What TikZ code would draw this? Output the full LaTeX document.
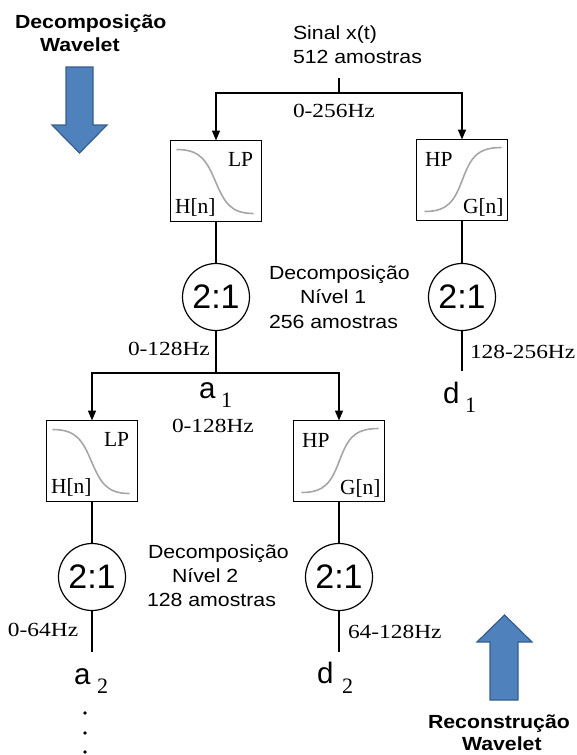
\documentclass[tikz,border=0pt]{standalone}
\usepackage{fontspec}
\setmainfont{Liberation Serif}
\newfontfamily\sanswide[FakeStretch=1.12]{Liberation Sans}
\newfontfamily\serifwide[FakeStretch=1.17]{Liberation Serif}
\newfontfamily\sansplain{Liberation Sans}
\usetikzlibrary{arrows.meta,calc}

\definecolor{arrowblue}{HTML}{4F81BD}
\definecolor{arrowedge}{HTML}{385D8A}
\definecolor{curvegray}{HTML}{A6A6A6}

\tikzset{
  wire/.style={line width=1.5pt, draw=black},
  arr/.style={wire, -{Triangle[length=10pt,width=8pt]}},
  filterbox/.style={draw=black, line width=1.6pt, minimum width=91pt, minimum height=81pt, inner sep=0pt, outer sep=0pt},
  downsamp/.style={draw=black, line width=1.2pt, circle, minimum size=67pt, inner sep=0pt, outer sep=0pt,
                   font=\sansplain\fontsize{34}{36}\selectfont},
  lbl/.style={inner sep=0pt, outer sep=0pt, anchor=base west},
  sanstxt/.style={lbl, font=\sanswide\fontsize{19}{23}\selectfont},
  boldtxt/.style={lbl, font=\sanswide\bfseries\fontsize{19}{23}\selectfont},
  hztxt/.style={lbl, font=\serifwide\fontsize{20}{24}\selectfont},
  boxtxt/.style={lbl, font=\fontsize{21.5}{24}\selectfont},
  coeftxt/.style={lbl, font=\sansplain\fontsize{29.5}{32}\selectfont},
  subtxt/.style={lbl, font=\fontsize{22}{24}\selectfont},
  curve/.style={draw=curvegray, line width=1.6pt},
  bigarrow/.style={fill=arrowblue, draw=arrowedge, line width=1.2pt, line join=miter},
}

% low-pass response drawn inside a box whose top-left corner is #1
\newcommand{\lowpasscurve}[1]{%
  \draw[curve] ($#1+(6,9)$) .. controls ($#1+(30,9)$) and ($#1+(36,20)$) .. ($#1+(45,41)$)
     .. controls ($#1+(54,62)$) and ($#1+(60,73)$) .. ($#1+(83,73)$);}
% high-pass response drawn inside a box whose top-left corner is #1
\newcommand{\highpasscurve}[1]{%
  \draw[curve] ($#1+(8,72)$) .. controls ($#1+(32,72)$) and ($#1+(38,61)$) .. ($#1+(46,40)$)
     .. controls ($#1+(54,19)$) and ($#1+(60,8)$) .. ($#1+(85,8)$);}

\begin{document}
\begin{tikzpicture}[x=1pt, y=-1pt]
\useasboundingbox (0,0) rectangle (577,755);

% ---------- direction arrows ----------
\draw[bigarrow] (66,67) -- (93,67) -- (93,125) -- (107,125) -- (79.5,153)
  -- (52,125) -- (66,125) -- cycle;
\draw[bigarrow] (490,700) -- (518,700) -- (518,642) -- (532,642) -- (504.5,615)
  -- (477,642) -- (490,642) -- cycle;
\node[boldtxt] (decTitle) at (15,28) {Decomposição};
\node[boldtxt] (decTitleB) at (40,51) {Wavelet};
\node[boldtxt] (recTitle) at (428,728) {Reconstrução};
\node[boldtxt] (recTitleB) at (462,750) {Wavelet};

% ---------- input signal ----------
\node[sanstxt] (sig) at (293,39) {Sinal x(t)};
\node[sanstxt] (sigN) at (293,63) {512 amostras};
\coordinate (s0top) at (339,78);
\coordinate (s0) at (339,93);
\node[hztxt] (f0) at (293,117) {0-256Hz};

% ---------- level 1 ----------
\node[filterbox] (lp1) at (216,181) {};
\node[filterbox] (hp1) at (462,180) {};
\lowpasscurve{(170.5,140.5)}
\highpasscurve{(416.5,139.5)}
\node[boxtxt] (lp1t) at (228,166) {LP};
\node[boxtxt] (lp1h) at (175,213) {H[n]};
\node[boxtxt] (hp1t) at (425,166) {HP};
\node[boxtxt] (hp1g) at (463,213) {G[n]};

\node[downsamp] (c1) at (216,297) {2:1};
\node[downsamp] (c1r) at (462,297) {2:1};

\node[sanstxt] (lev1a) at (269,279) {Decomposição};
\node[sanstxt] (lev1b) at (300,303) {Nível 1};
\node[sanstxt] (lev1c) at (269,328) {256 amostras};

\coordinate (s1) at (216,373);
\coordinate (e1) at (462,371);
\node[hztxt] (f1) at (128,355) {0-128Hz};
\node[hztxt] (f1r) at (470,358) {128-256Hz};
\node[coeftxt] (a1) at (199,398) {a};
\node[subtxt] (a1s) at (221,407) {1};
\node[hztxt] (f1b) at (172,432) {0-128Hz};
\node[coeftxt] (d1) at (443,403) {d};
\node[subtxt] (d1s) at (465,412) {1};

\draw[wire] (s0top) -- (s0);
\draw[arr] (s0) -| (lp1);
\draw[arr] (s0) -| (hp1);
\draw[wire] (lp1) -- (c1);
\draw[wire] (hp1) -- (c1r);
\draw[wire] (c1) -- (s1);
\draw[wire] (c1r) -- (e1);

% ---------- level 2 ----------
\node[filterbox] (lp2) at (92,461) {};
\node[filterbox] (hp2) at (339,461) {};
\lowpasscurve{(46.5,420.5)}
\highpasscurve{(293.5,420.5)}
\node[boxtxt] (lp2t) at (104,446) {LP};
\node[boxtxt] (lp2h) at (51,493) {H[n]};
\node[boxtxt] (hp2t) at (302,447) {HP};
\node[boxtxt] (hp2g) at (340,494) {G[n]};

\node[downsamp] (c2) at (92,577) {2:1};
\node[downsamp] (c2r) at (339,577) {2:1};

\node[sanstxt] (lev2a) at (148,558) {Decomposição};
\node[sanstxt] (lev2b) at (172,582) {Nível 2};
\node[sanstxt] (lev2c) at (147,606) {128 amostras};

\coordinate (e2) at (92,652);
\coordinate (e2r) at (339,652);
\node[hztxt] (f2) at (8,636) {0-64Hz};
\node[hztxt] (f2r) at (348,638) {64-128Hz};
\node[coeftxt] (a2) at (74,684) {a};
\node[subtxt] (a2s) at (97,693) {2};
\node[coeftxt] (d2) at (317,683) {d};
\node[subtxt] (d2s) at (342,693) {2};

\draw[arr] (s1) -| (lp2);
\draw[arr] (s1) -| (hp2);
\draw[wire] (lp2) -- (c2);
\draw[wire] (hp2) -- (c2r);
\draw[wire] (c2) -- (e2);
\draw[wire] (c2r) -- (e2r);

% continuation dots
\fill (85,713) circle (1.9);
\fill (85,733) circle (1.9);
\fill (85,752) circle (1.9);
\end{tikzpicture}
\end{document}
